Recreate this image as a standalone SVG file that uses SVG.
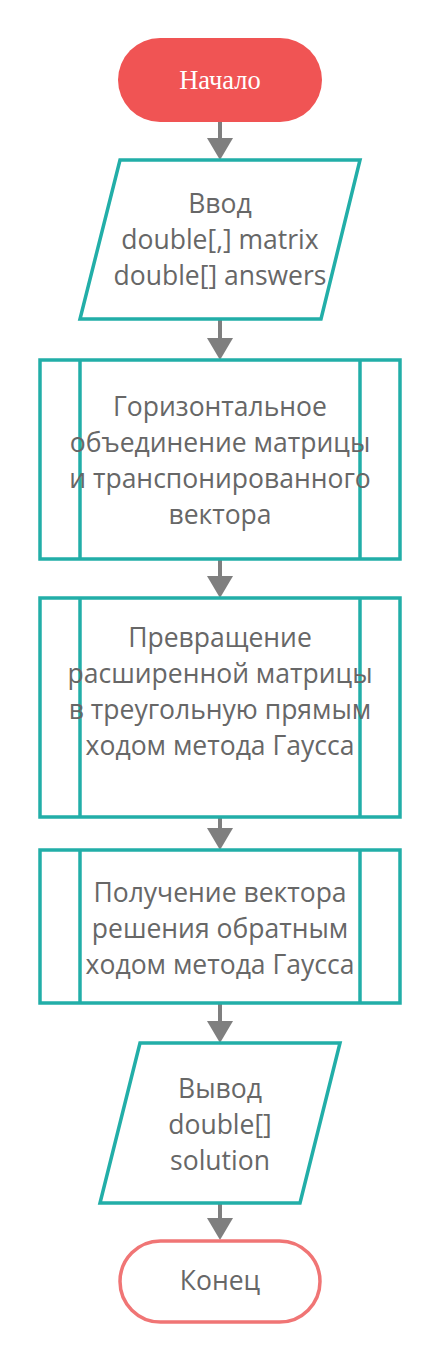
<svg xmlns="http://www.w3.org/2000/svg" width="441" height="1361" viewBox="0 0 441 1361">
<style>
.shape{fill:#ffffff;stroke:#22aea8;stroke-width:3.5;stroke-linejoin:miter}
.t{font-family:"Open Sans","Liberation Sans",sans-serif;font-size:26.5px;fill:#676767;text-anchor:middle}
.conn{stroke:#7f7f7f;stroke-width:4;fill:none}
</style>
<defs>
<marker id="arr" markerUnits="userSpaceOnUse" viewBox="0 0 22 26" markerWidth="22" markerHeight="26" refX="17" refY="13" orient="auto">
<path d="M0,0 L22,13 L0,26 Z" fill="#7f7f7f"/>
</marker>
</defs>
<rect width="441" height="1361" fill="#ffffff"/>
<g id="connectors">
<path class="conn" d="M220,122 L220,155" marker-end="url(#arr)"/>
<path class="conn" d="M220,319 L220,355" marker-end="url(#arr)"/>
<path class="conn" d="M220,560 L220,593" marker-end="url(#arr)"/>
<path class="conn" d="M220,818 L220,845" marker-end="url(#arr)"/>
<path class="conn" d="M220,1003 L220,1038" marker-end="url(#arr)"/>
<path class="conn" d="M220,1203 L220,1235" marker-end="url(#arr)"/>
</g>
<g id="start">
<rect x="118" y="38" width="204" height="84" rx="42" ry="42" fill="#f05454"/>
<text x="220" y="89" font-family="'Liberation Serif',serif" font-size="26.5" fill="#ffffff" text-anchor="middle">Начало</text>
</g>
<g id="input">
<polygon class="shape" points="120,160 360,160 321,319 80,319"/>
<text class="t" x="220" y="213">Ввод</text>
<text class="t" x="220" y="249">double[,] matrix</text>
<text class="t" x="220" y="285">double[] answers</text>
</g>
<g id="process1">
<rect class="shape" x="40" y="360" width="360" height="199"/>
<line class="shape" x1="80" y1="360" x2="80" y2="559"/>
<line class="shape" x1="360" y1="360" x2="360" y2="559"/>
<text class="t" x="220" y="416">Горизонтальное</text>
<text class="t" x="220" y="452">объединение матрицы</text>
<text class="t" x="220" y="488">и транспонированного</text>
<text class="t" x="220" y="524">вектора</text>
</g>
<g id="process2">
<rect class="shape" x="40" y="598" width="360" height="219"/>
<line class="shape" x1="80" y1="598" x2="80" y2="817"/>
<line class="shape" x1="360" y1="598" x2="360" y2="817"/>
<text class="t" x="220" y="647">Превращение</text>
<text class="t" x="220" y="683">расширенной матрицы</text>
<text class="t" x="220" y="719">в треугольную прямым</text>
<text class="t" x="220" y="755">ходом метода Гаусса</text>
</g>
<g id="process3">
<rect class="shape" x="40" y="850" width="360" height="153"/>
<line class="shape" x1="80" y1="850" x2="80" y2="1003"/>
<line class="shape" x1="360" y1="850" x2="360" y2="1003"/>
<text class="t" x="220" y="902">Получение вектора</text>
<text class="t" x="220" y="938">решения обратным</text>
<text class="t" x="220" y="974">ходом метода Гаусса</text>
</g>
<g id="output">
<polygon class="shape" points="140,1043 340,1043 300,1203 100,1203"/>
<text class="t" x="220" y="1098">Вывод</text>
<text class="t" x="220" y="1134">double[]</text>
<text class="t" x="220" y="1170">solution</text>
</g>
<g id="end">
<rect x="120" y="1241" width="200" height="81" rx="40.5" ry="40.5" fill="#ffffff" stroke="#f07575" stroke-width="3.5"/>
<text class="t" x="220" y="1290">Конец</text>
</g>
</svg>
